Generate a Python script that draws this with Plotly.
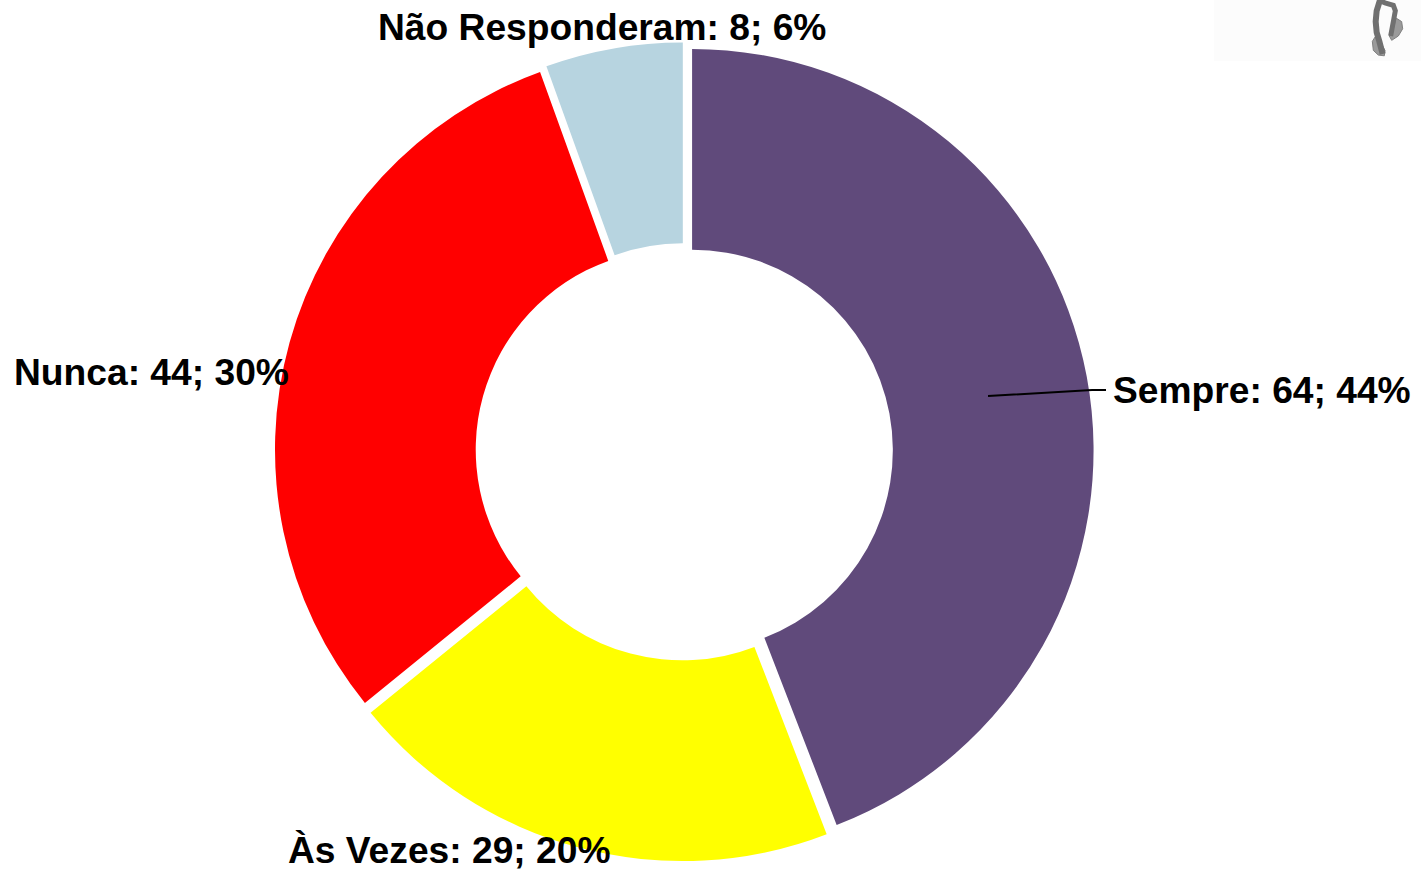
import plotly.graph_objects as go

W, H = 1421, 870
categories = ["Sempre", "Às Vezes", "Nunca", "Não Responderam"]
values = [64, 29, 44, 8]
percent_labels = [44, 20, 30, 6]
colors = ["#604a7b", "#ffff00", "#ff0000", "#b7d4e0"]
label_positions = [(1111, 390), (286, 850), (12, 372), (376, 27)]

def px(x): return x / W
def py(y): return 1 - y / H
def poly(pts, close=True):
    s = "M " + " L ".join(f"{px(x):.5f},{py(y):.5f}" for x, y in pts)
    return s + " Z" if close else s
def note(pts):
    return [(1360 + x / 3, y * 0.36) for x, y in pts]

fig = go.Figure(go.Pie(
    labels=categories, values=values, sort=False, direction="clockwise", rotation=0,
    hole=0.5, pull=0.02, textinfo="none", hoverinfo="label+value+percent",
    marker=dict(colors=colors, line=dict(width=0)),
    domain=dict(x=[px(274.7), px(1093.7)], y=[py(861.35), py(42.35)]),
    showlegend=False,
))

annotations = [
    dict(x=px(x), y=py(y), xref="paper", yref="paper", xanchor="left", yanchor="middle",
         text=f"<b>{c}: {v}; {p}%</b>", showarrow=False,
         font=dict(family="Liberation Sans", size=37.2, color="#000000"))
    for (x, y), c, v, p in zip(label_positions, categories, values, percent_labels)
]

shapes = [
    dict(type="rect", xref="paper", yref="paper", x0=px(1214), x1=px(1421), y0=py(0), y1=py(61),
         fillcolor="#fcfcfc", line=dict(width=0), layer="below"),
    dict(type="path", xref="paper", yref="paper",
         path=poly([(988, 396), (1092, 390), (1106, 390)], close=False),
         line=dict(color="#000000", width=2), fillcolor="rgba(0,0,0,0)"),
    dict(type="path", xref="paper", yref="paper",
         path=poly(note([(45, 103), (37, 115), (40, 140), (55, 153), (73, 155), (75, 140), (60, 115)])),
         fillcolor="#9a9a9a", line=dict(color="#808080", width=1)),
    dict(type="path", xref="paper", yref="paper",
         path=poly(note([(108, 50), (125, 60), (128, 80), (115, 100), (95, 112), (88, 100), (100, 80)])),
         fillcolor="#9a9a9a", line=dict(color="#808080", width=1)),
    dict(type="path", xref="paper", yref="paper",
         path=poly(note([(60, 0), (50, 30), (47, 60), (50, 90), (58, 115), (68, 150)]), close=False),
         fillcolor="rgba(0,0,0,0)", line=dict(color="#707070", width=6)),
    dict(type="path", xref="paper", yref="paper",
         path=poly(note([(55, 0), (75, 8), (100, 15), (106, 30), (100, 60), (92, 100)]), close=False),
         fillcolor="rgba(0,0,0,0)", line=dict(color="#707070", width=5)),
]

fig.update_layout(
    width=W, height=H, margin=dict(l=0, r=0, t=0, b=0),
    paper_bgcolor="#ffffff", plot_bgcolor="#ffffff",
    annotations=annotations, shapes=shapes,
)
fig.write_html("out.html", config=dict(displayModeBar=False),
               post_script="document.body.style.margin='0';document.body.style.overflow='hidden';")
